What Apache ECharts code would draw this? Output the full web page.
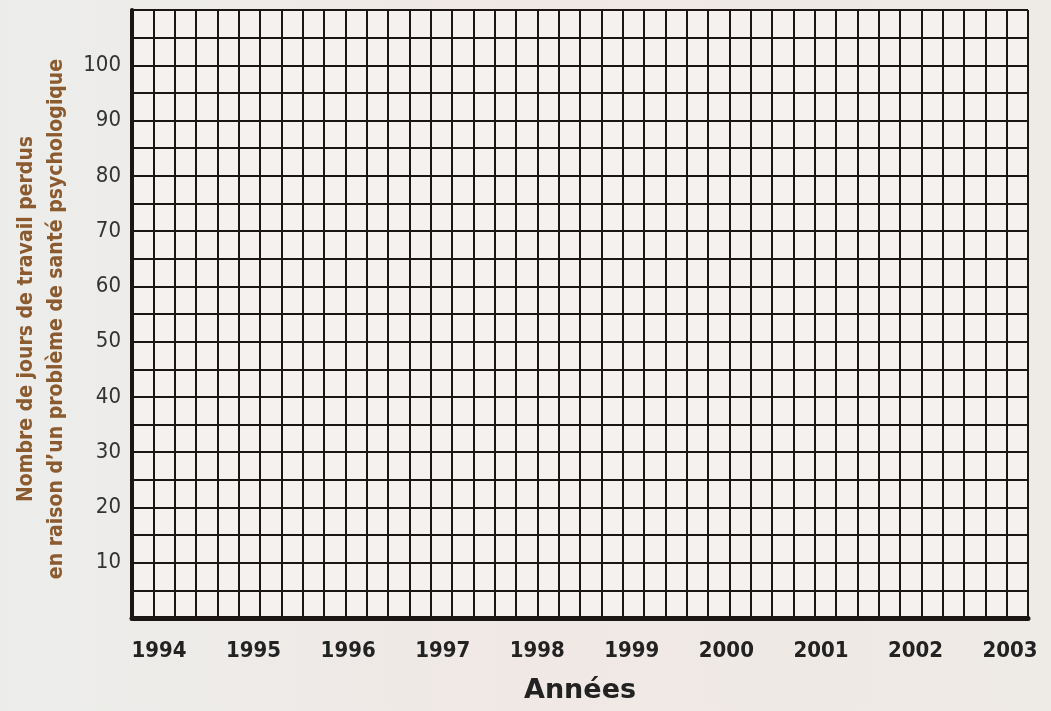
<!DOCTYPE html>
<html>
<head>
<meta charset="utf-8">
<script src="https://cdn.jsdelivr.net/npm/echarts@6/dist/echarts.min.js"></script>
<style>
html,body{margin:0;padding:0;}
#chart{width:1051px;height:711px;}
</style>
</head>
<body>
<div id="chart"></div>
<script>
// Data (the reference is an empty grid to fill in: no values plotted)
const years = [1994, 1995, 1996, 1997, 1998, 1999, 2000, 2001, 2002, 2003];
const yTickLabels = [10, 20, 30, 40, 50, 60, 70, 80, 90, 100];
const seriesValues = []; // no data plotted in the reference
const yTitleLines = ['Nombre de jours de travail perdus', 'en raison d\u2019un problème de santé psychologique'];
const xTitle = 'Années';

const condFont = "'DejaVu Sans Condensed', 'DejaVu Sans', sans-serif";
const chart = echarts.init(document.getElementById('chart'));
const lineColor = '#1b1613';
chart.setOption({
  animation: false,
  backgroundColor: {
    type: 'linear', x: 0, y: 0, x2: 1, y2: 0,
    colorStops: [
      { offset: 0, color: '#ecedeb' },
      { offset: 0.5, color: '#f0e8e4' },
      { offset: 1, color: '#eeeae6' }
    ]
  },
  grid: {
    left: 132, right: 23, top: 10, bottom: 93,
    show: true, backgroundColor: '#f4f1ee', borderWidth: 0
  },
  xAxis: [
    {
      type: 'value', min: 0, max: 42, interval: 1, position: 'top',
      axisLine: { show: false },
      axisTick: { show: false },
      axisLabel: { show: false },
      splitLine: { show: true, lineStyle: { color: lineColor, width: 2 } }
    },
    {
      type: 'value', min: 1993.714, max: 2003.19, position: 'bottom',
      axisLine: { show: true, onZero: false, lineStyle: { color: lineColor, width: 5 } },
      axisTick: { show: false },
      splitLine: { show: false },
      axisLabel: {
        customValues: years,
        formatter: v => String(v),
        fontFamily: condFont, fontWeight: 'bold', fontSize: 22,
        color: '#222', margin: 22
      },
      name: xTitle, nameLocation: 'middle', nameGap: 59,
      nameTextStyle: { fontFamily: 'DejaVu Sans', fontWeight: 'bold', fontSize: 27, color: '#222' }
    }
  ],
  yAxis: {
    type: 'value', min: 0, max: 110, interval: 5,
    axisLine: { show: true, onZero: false, lineStyle: { color: lineColor, width: 4 } },
    axisTick: { show: false },
    splitLine: { show: true, lineStyle: { color: lineColor, width: 2 } },
    axisLabel: {
      customValues: yTickLabels,
      fontFamily: condFont, fontSize: 22, color: '#333', margin: 11
    }
  },
  graphic: [{
    type: 'text', x: 42, y: 319, rotation: Math.PI / 2,
    style: {
      text: yTitleLines.join('\n'),
      textAlign: 'center', textVerticalAlign: 'middle',
      fontFamily: condFont, fontWeight: 'bold', fontSize: 21,
      lineHeight: 30, fill: '#8b5a2e'
    }
  }],
  series: [{ type: 'line', xAxisIndex: 1, data: seriesValues }]
});
</script>
</body>
</html>
